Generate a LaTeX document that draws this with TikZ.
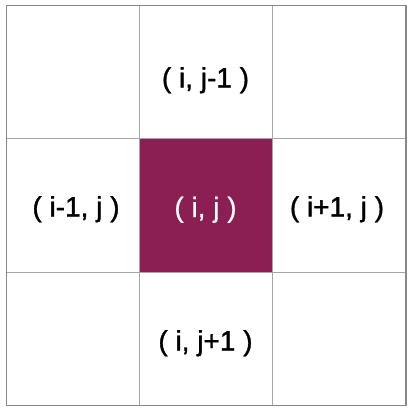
\documentclass[tikz,border=0pt]{standalone}
\usepackage{fontspec}
\setmainfont{Liberation Sans}
\newfontfamily\medfont{Liberation Sans}[FakeBold=1.2]
\newfontfamily\lightfont{Liberation Sans}[FakeBold=0.5]
\definecolor{cellfill}{RGB}{139,30,82}
\definecolor{outerline}{RGB}{136,136,136}
\definecolor{innerline}{RGB}{166,166,166}
\begin{document}
\begin{tikzpicture}[x=1pt,y=-1pt,
  lbl/.style={anchor=base,font=\medfont\fontsize{28}{30}\selectfont,inner sep=0pt},
  midlbl/.style={anchor=base,font=\lightfont\fontsize{28}{30}\selectfont,inner sep=0pt,text=white},
  grid/.style={draw=innerline,line width=1pt}]
\useasboundingbox (0,0) rectangle (412,412);
\fill[white] (0,0) rectangle (412,412);
\fill[cellfill] (139,138) rectangle (272,272);
\draw[grid] (139,5.5) -- (139,405.5);
\draw[grid] (272,5.5) -- (272,405.5);
\draw[grid] (6.5,138) -- (406,138);
\draw[grid] (6.5,272) -- (406,272);
\draw[draw=outerline,line width=1.2pt] (6.5,5.5) rectangle (406,405.5);
\node[lbl] (top) at (205.5,87.5) {( i, j-1 )};
\node[lbl] (left) at (76,216.5) {( i-1, j )};
\node[midlbl] (mid) at (205.5,217) {( i, j )};
\node[lbl] (right) at (337,216.5) {( i+1, j )};
\node[lbl] (bottom) at (205.5,350.5) {( i, j+1 )};
\end{tikzpicture}
\end{document}
